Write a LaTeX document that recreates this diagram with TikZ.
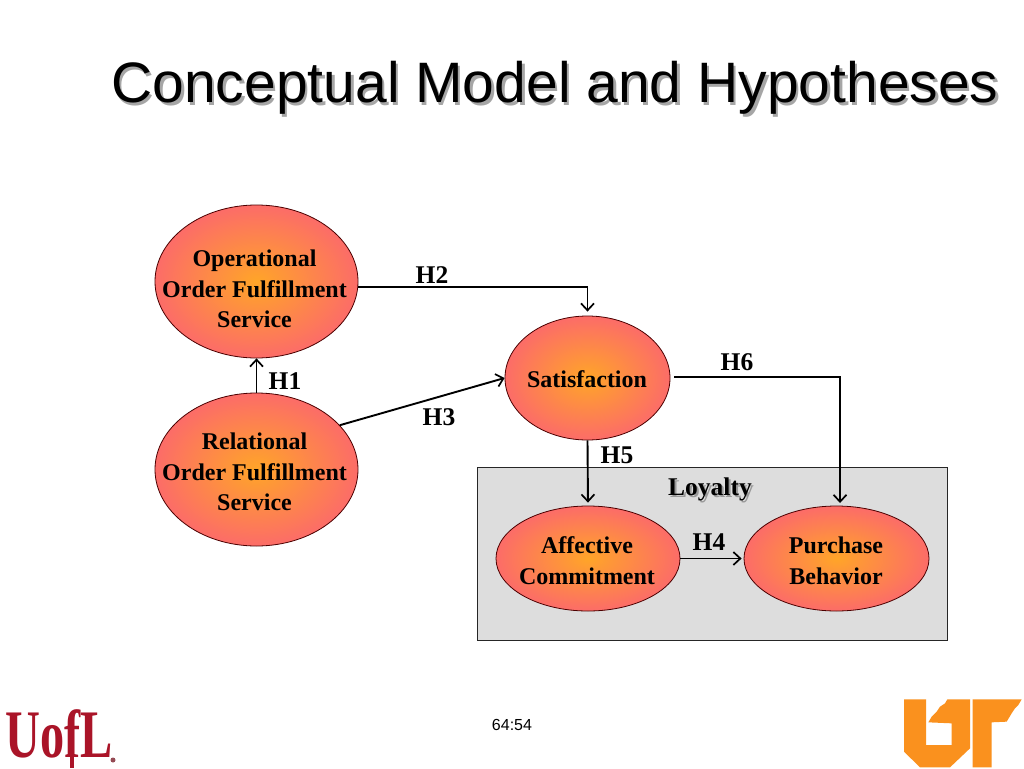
\documentclass[tikz,border=0pt]{standalone}
\usepackage{fontspec}
\setmainfont{Liberation Serif}
\newfontfamily\arialfont{Liberation Sans}
\usetikzlibrary{shapes.geometric,arrows.meta}
\definecolor{ringout}{RGB}{252,108,104}
\definecolor{ringin}{RGB}{255,165,40}
\definecolor{boxgray}{RGB}{221,221,221}
\definecolor{utorange}{RGB}{250,145,30}
\definecolor{ulred}{RGB}{170,20,40}
\tikzset{
  oval/.style={ellipse,draw=black!70!red,line width=0.8pt,inner sep=0pt,
    inner color=ringin,outer color=ringout},
  ovaltext/.style={align=center,font=\fontsize{24}{30.7}\selectfont\bfseries,inner sep=0pt},
  hyp/.style={font=\fontsize{25.5}{30}\selectfont\bfseries,inner sep=0pt},
  link/.style={line width=1.9pt,-{Straight Barb[length=7pt,width=13pt,line width=1.7pt]}},
  titletext/.style={font=\arialfont\fontsize{57}{62}\selectfont,inner sep=0pt},
}
\begin{document}
\begin{tikzpicture}[x=1pt,y=-1pt]
\useasboundingbox (0,0) rectangle (1024,768);
\fill[white] (0,0) rectangle (1024,768);
% title with shadow
\node[titletext,text=black!35] (titleshadow) at (557.5,90.5) {Conceptual Model and Hypotheses};
\node[titletext] (title) at (555,88) {Conceptual Model and Hypotheses};
% loyalty box
\node[draw=black!85,fill=boxgray,line width=1pt,minimum width=470pt,minimum height=173pt,inner sep=0pt] (loyaltybox) at (712,553.5) {};
\node[hyp,text=black!40] (loyaltyshadow) at (712,491) {Loyalty};
\node[hyp] (loyalty) at (710,489) {Loyalty};
% ovals
\node[oval,minimum width=203pt,minimum height=153pt] (op) at (256.5,281.5) {};
\node[oval,minimum width=203pt,minimum height=153pt] (rel) at (256.5,469.5) {};
\node[oval,minimum width=165pt,minimum height=124pt] (sat) at (587.5,378) {};
\node[oval,minimum width=184pt,minimum height=105pt] (aff) at (588,558.5) {};
\node[oval,minimum width=185pt,minimum height=105pt] (pur) at (836.5,558.5) {};
% oval texts
\node[ovaltext] (optext) at (254.5,289) {Operational\\Order Fulfillment\\Service};
\node[ovaltext] (reltext) at (254.5,472) {Relational\\Order Fulfillment\\Service};
\node[ovaltext] (sattext) at (587,379) {Satisfaction};
\node[ovaltext] (afftext) at (587,560.5) {Affective\\Commitment};
\node[ovaltext] (purtext) at (836,560.5) {Purchase\\Behavior};
% connectors
\coordinate (h6drop) at (840,506);
\draw[link] (rel.north) -- (op.south);
\draw[link,shorten >=4pt] (op.-3) -| (sat.north);
\draw[link] (rel.28) -- (sat.west);
\draw[link,shorten >=3pt] (sat.south) -- (aff.north);
\draw[link,shorten >=2pt] (aff.east) -- (pur.west);
\draw[link,shorten <=4pt,shorten >=3pt] (sat.1.5) -| (h6drop);
% hypothesis labels
\node[hyp] (h1) at (285,381) {H1};
\node[hyp] (h2) at (432,275) {H2};
\node[hyp] (h3) at (439,417) {H3};
\node[hyp] (h4) at (709,542) {H4};
\node[hyp] (h5) at (617,455) {H5};
\node[hyp] (h6) at (737,362) {H6};
% page number
\node[font=\arialfont\fontsize{16}{18}\selectfont,inner sep=0pt] (pageno) at (512,725) {64:54};
% UofL logo
\node[anchor=base west,inner sep=0pt,text=ulred,font=\fontsize{68}{70}\selectfont\bfseries] (uofl) at (5,757) {\scalebox{0.71}[1]{UofL}};
\fill[ulred] (70,755) rectangle (74,768);
\fill[ulred!50!gray] (113,760) circle (2.5pt);
% UT logo
\begin{scope}[shift={(890,680)},x=0.3333pt,y=-0.3333pt]
\fill[utorange] (42,58) -- (108,58) -- (108,195) -- (185,195) -- (185,130) -- (115,127) -- (125,110) -- (140,95) -- (150,80) -- (165,70) -- (172,58) -- (240,58) -- (240,205) -- (180,262) -- (90,262) -- (42,215) -- cycle;
\fill[utorange] (248,58) -- (395,58) -- (385,75) -- (375,85) -- (365,100) -- (350,125) -- (305,127) -- (305,262) -- (248,262) -- cycle;
\end{scope}
\end{tikzpicture}
\end{document}
